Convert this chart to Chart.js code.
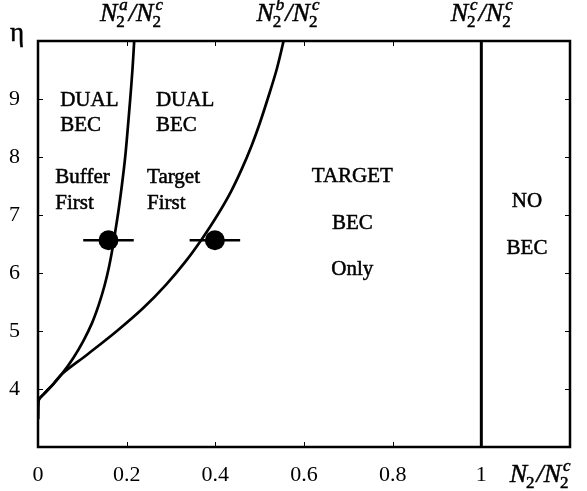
<!DOCTYPE html>
<html>
<head>
<meta charset="utf-8">
<script src="https://cdn.jsdelivr.net/npm/chart.js@4.4.1/dist/chart.umd.min.js"></script>
<style>
  html, body { margin: 0; padding: 0; background: #fff; }
  #wrap { width: 587px; height: 491px; }
</style>
</head>
<body>
<div id="wrap"><canvas id="phaseChart"></canvas></div>
<script>
// boundary N2^a/N2^c (left curve)
const curveAX = [0, 0.001, 0.013, 0.035, 0.054, 0.080, 0.103, 0.122, 0.137, 0.150, 0.160, 0.168, 0.175, 0.182, 0.189, 0.196, 0.202, 0.208, 0.213, 0.217];
const curveAY = [3.48, 3.80, 3.91, 4.09, 4.26, 4.54, 4.84, 5.14, 5.45, 5.78, 6.10, 6.42, 6.75, 7.10, 7.50, 7.95, 8.45, 9.00, 9.50, 10.0];

// boundary N2^b/N2^c (right curve)
const curveBX = [0, 0.001, 0.013, 0.035, 0.054, 0.112, 0.178, 0.238, 0.289, 0.333, 0.371, 0.405, 0.435, 0.460, 0.482, 0.501, 0.518, 0.538, 0.554];
const curveBY = [3.48, 3.80, 3.91, 4.09, 4.26, 4.60, 5.00, 5.40, 5.80, 6.20, 6.60, 7.00, 7.40, 7.80, 8.20, 8.60, 9.00, 9.50, 10.0];

// N2^c/N2^c
const critX = [1, 1];
const critY = [3, 10];

// measured points with horizontal error bars
const measX = [0.159, 0.399];
const measY = [6.565, 6.565];
const measXErr = [0.057, 0.057];

const xTicks = [0, 0.2, 0.4, 0.6, 0.8, 1];
const xTickLabels = ['0', '0.2', '0.4', '0.6', '0.8', '1'];
const yTicks = [4, 5, 6, 7, 8, 9];
const yTickLabels = ['4', '5', '6', '7', '8', '9'];

const SERIF = '"Liberation Serif", "Times New Roman", serif';

const toPts = (xs, ys) => xs.map((x, i) => ({ x: x, y: ys[i] }));

function tickLabel(vals, labels, v) {
  const i = vals.findIndex(t => Math.abs(t - v) < 1e-6);
  return i >= 0 ? labels[i] : '';
}

// text with a hairline stroke, the scan in the figure is heavy
function heavyText(ctx, s, x, y) {
  ctx.fillText(s, x, y);
  ctx.strokeText(s, x, y);
}

// N_2^sup / N_2^c drawn as one label, centred (or left aligned) at px
function drawRatio(ctx, px, py, numSup, align) {
  const big = 'italic 26px ' + SERIF;
  const smallIt = 'italic 17px ' + SERIF;
  const small = '17px ' + SERIF;
  const parts = [
    { t: 'N', f: big },
    { sub: '2', sup: numSup },
    { t: '/', f: big },
    { t: 'N', f: big },
    { sub: '2', sup: 'c' }
  ];
  const widths = parts.map(p => {
    if (p.t) { ctx.font = p.f; return ctx.measureText(p.t).width; }
    ctx.font = small; const a = ctx.measureText(p.sub).width;
    let b = 0;
    if (p.sup) { ctx.font = smallIt; b = ctx.measureText(p.sup).width + 2; }
    return Math.max(a, b) + 1;
  });
  const total = widths.reduce((s, w) => s + w, 0);
  let x = align === 'left' ? px : px - total / 2;
  ctx.textAlign = 'left';
  ctx.textBaseline = 'alphabetic';
  parts.forEach((p, i) => {
    if (p.t) {
      ctx.font = p.f; heavyText(ctx, p.t, x, py);
    } else {
      ctx.font = small; heavyText(ctx, p.sub, x - 1, py + 6);
      if (p.sup) { ctx.font = smallIt; heavyText(ctx, p.sup, x + 2, py - 11); }
    }
    x += widths[i];
  });
}

const frameAndText = {
  id: 'frameAndText',
  beforeDatasetsDraw(chart) {
    const { ctx, scales: { x, y } } = chart;
    ctx.save();
    ctx.strokeStyle = '#000';
    ctx.lineWidth = 2.5;
    measX.forEach((mx, i) => {
      ctx.beginPath();
      ctx.moveTo(x.getPixelForValue(mx - measXErr[i]), y.getPixelForValue(measY[i]));
      ctx.lineTo(x.getPixelForValue(mx + measXErr[i]), y.getPixelForValue(measY[i]));
      ctx.stroke();
    });
    ctx.restore();
  },
  afterDraw(chart) {
    const { ctx, chartArea: a, scales: { x, y } } = chart;
    ctx.save();
    ctx.strokeStyle = '#000';
    ctx.lineWidth = 1;
    const tl = 5;
    x.ticks.forEach(t => {
      if (t.value <= x.min || t.value >= x.max) return;
      const px = Math.round(x.getPixelForValue(t.value)) + 0.5;
      ctx.beginPath();
      ctx.moveTo(px, a.bottom); ctx.lineTo(px, a.bottom - tl);
      ctx.moveTo(px, a.top); ctx.lineTo(px, a.top + tl);
      ctx.stroke();
    });
    y.ticks.forEach(t => {
      if (t.value <= y.min || t.value >= y.max) return;
      const py = Math.round(y.getPixelForValue(t.value)) + 0.5;
      ctx.beginPath();
      ctx.moveTo(a.left, py); ctx.lineTo(a.left + tl, py);
      ctx.moveTo(a.right, py); ctx.lineTo(a.right - tl, py);
      ctx.stroke();
    });
    ctx.lineWidth = 2.5;
    ctx.strokeRect(a.left, a.top, a.right - a.left, a.bottom - a.top);

    ctx.fillStyle = '#000';
    ctx.lineWidth = 0.5;
    ctx.font = '21px ' + SERIF;
    ctx.textBaseline = 'alphabetic';
    const txt = [
      ['DUAL', 0.050, 8.876, 'left'], ['BEC', 0.050, 8.447, 'left'],
      ['Buffer', 0.039, 7.545, 'left'], ['First', 0.039, 7.098, 'left'],
      ['DUAL', 0.266, 8.876, 'left'], ['BEC', 0.266, 8.447, 'left'],
      ['Target', 0.246, 7.545, 'left'], ['First', 0.246, 7.098, 'left'],
      ['TARGET', 0.709, 7.562, 'center'], ['BEC', 0.709, 6.763, 'center'],
      ['Only', 0.709, 5.973, 'center'],
      ['NO', 1.103, 7.132, 'center'], ['BEC', 1.103, 6.333, 'center']
    ];
    txt.forEach(([s, dx, dy, al]) => {
      ctx.textAlign = al;
      heavyText(ctx, s, x.getPixelForValue(dx), y.getPixelForValue(dy));
    });

    ctx.font = '27px ' + SERIF;
    ctx.textAlign = 'center';
    heavyText(ctx, 'η', 17, a.top);

    drawRatio(ctx, x.getPixelForValue(0.212), a.top - 20, 'a', 'center');
    drawRatio(ctx, x.getPixelForValue(0.565), a.top - 20, 'b', 'center');
    drawRatio(ctx, x.getPixelForValue(1.002), a.top - 20, 'c', 'center');
    drawRatio(ctx, x.getPixelForValue(1.064), a.bottom + 35, null, 'left');
    ctx.restore();
  }
};

const lineStyle = {
  showLine: true, pointRadius: 0, borderColor: '#000', borderWidth: 2.7,
  fill: false, tension: 0.35
};

new Chart(document.getElementById('phaseChart'), {
  type: 'scatter',
  data: {
    datasets: [
      Object.assign({ data: toPts(curveAX, curveAY) }, lineStyle),
      Object.assign({ data: toPts(curveBX, curveBY) }, lineStyle),
      { data: toPts(critX, critY), showLine: true, pointRadius: 0, borderColor: '#000', borderWidth: 3 },
      { data: toPts(measX, measY), showLine: false, pointRadius: 10, pointBackgroundColor: '#000', pointBorderColor: '#000', pointBorderWidth: 0 }
    ]
  },
  options: {
    responsive: true,
    maintainAspectRatio: false,
    animation: false,
    layout: { padding: { top: 41, right: 17, left: 0, bottom: 0 } },
    plugins: { legend: { display: false }, tooltip: { enabled: false } },
    scales: {
      x: {
        type: 'linear', min: 0, max: 1.2,
        grid: { display: false },
        border: { display: false },
        ticks: {
          stepSize: 0.2, padding: 7, color: '#000',
          font: { family: SERIF, size: 22 },
          callback: v => tickLabel(xTicks, xTickLabels, v)
        },
        afterFit: s => { s.height = 44; }
      },
      y: {
        type: 'linear', min: 3, max: 10,
        grid: { display: false },
        border: { display: false },
        ticks: {
          stepSize: 1, padding: 10, color: '#000',
          font: { family: SERIF, size: 22 },
          callback: v => tickLabel(yTicks, yTickLabels, v)
        },
        afterFit: s => { s.width = 38; }
      }
    }
  },
  plugins: [frameAndText]
});
</script>
</body>
</html>
